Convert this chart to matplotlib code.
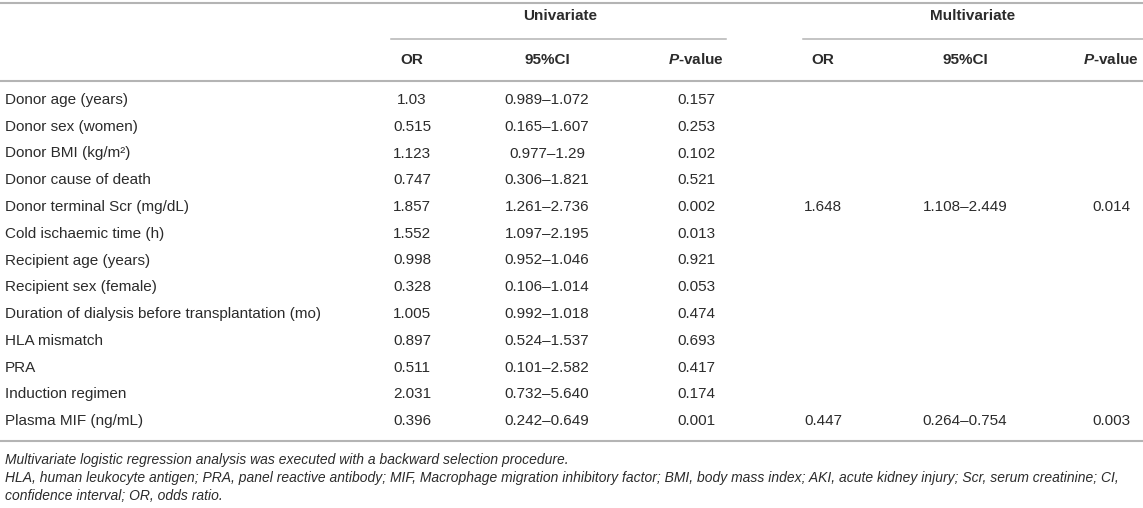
import matplotlib
matplotlib.use("Agg")
import matplotlib.pyplot as plt

plt.rcParams['font.family'] = ['Liberation Sans', 'DejaVu Sans']
plt.rcParams['mathtext.fontset'] = 'custom'
plt.rcParams['mathtext.it'] = 'Liberation Sans:italic:bold'
plt.rcParams['mathtext.rm'] = 'Liberation Sans:bold'

variables = [
    "Donor age (years)",
    "Donor sex (women)",
    "Donor BMI (kg/m\u00b2)",
    "Donor cause of death",
    "Donor terminal Scr (mg/dL)",
    "Cold ischaemic time (h)",
    "Recipient age (years)",
    "Recipient sex (female)",
    "Duration of dialysis before transplantation (mo)",
    "HLA mismatch",
    "PRA",
    "Induction regimen",
    "Plasma MIF (ng/mL)",
]
uni_or = ["1.03", "0.515", "1.123", "0.747", "1.857", "1.552", "0.998",
          "0.328", "1.005", "0.897", "0.511", "2.031", "0.396"]
uni_ci = ["0.989\u20131.072", "0.165\u20131.607", "0.977\u20131.29",
          "0.306\u20131.821", "1.261\u20132.736", "1.097\u20132.195",
          "0.952\u20131.046", "0.106\u20131.014", "0.992\u20131.018",
          "0.524\u20131.537", "0.101\u20132.582", "0.732\u20135.640",
          "0.242\u20130.649"]
uni_p = ["0.157", "0.253", "0.102", "0.521", "0.002", "0.013", "0.921",
         "0.053", "0.474", "0.693", "0.417", "0.174", "0.001"]
multi_or = ["", "", "", "", "1.648", "", "", "", "", "", "", "", "0.447"]
multi_ci = ["", "", "", "", "1.108\u20132.449", "", "", "", "", "", "", "",
            "0.264\u20130.754"]
multi_p = ["", "", "", "", "0.014", "", "", "", "", "", "", "", "0.003"]

groups = ["Univariate", "Multivariate"]
col_heads = ["OR", "95%CI", r"$\mathit{P}$-value"]
footnotes = [
    "Multivariate logistic regression analysis was executed with a backward selection procedure.",
    "HLA, human leukocyte antigen; PRA, panel reactive antibody; MIF, Macrophage migration inhibitory factor; "
    "BMI, body mass index; AKI, acute kidney injury; Scr, serum creatinine; CI,",
    "confidence interval; OR, odds ratio.",
]

W, H = 1143, 508
fig = plt.figure(figsize=(W / 100, H / 100), dpi=100)
ax = fig.add_axes([0, 0, 1, 1])
ax.set_xlim(0, W)
ax.set_ylim(H, 0)
ax.axis('off')

txt = '#2b2b2b'
rule = '#b4b4b4'
fs = 11

col_x = [412, 547, 696, 823, 965, 1111]
row_y0, row_dy = 100, 26.75

# rules
ax.plot([0, W], [3, 3], color=rule, lw=1.5)
ax.plot([391, 726], [39, 39], color=rule, lw=1.1)
ax.plot([803, W], [39, 39], color=rule, lw=1.1)
ax.plot([0, W], [81, 81], color=rule, lw=1.5)
ax.plot([0, W], [441, 441], color=rule, lw=1.5)

# group headers
ax.text(560, 16, groups[0], ha='center', va='center', fontsize=fs,
        fontweight='bold', color=txt)
ax.text(973, 16, groups[1], ha='center', va='center', fontsize=fs,
        fontweight='bold', color=txt)

for i, h in enumerate(col_heads * 2):
    ax.text(col_x[i], 60, h, ha='center', va='center', fontsize=fs,
            fontweight='bold', color=txt)

cols = [uni_or, uni_ci, uni_p, multi_or, multi_ci, multi_p]
for r, name in enumerate(variables):
    y = row_y0 + r * row_dy
    ax.text(5, y, name, ha='left', va='center', fontsize=fs, color=txt)
    for c, vals in enumerate(cols):
        if vals[r]:
            ax.text(col_x[c], y, vals[r], ha='center', va='center',
                    fontsize=fs, color=txt)

for i, line in enumerate(footnotes):
    ax.text(5, 460 + i * 18, line, ha='left', va='center', fontsize=10,
            style='italic', color=txt)

fig.savefig('out.png', dpi=100)
